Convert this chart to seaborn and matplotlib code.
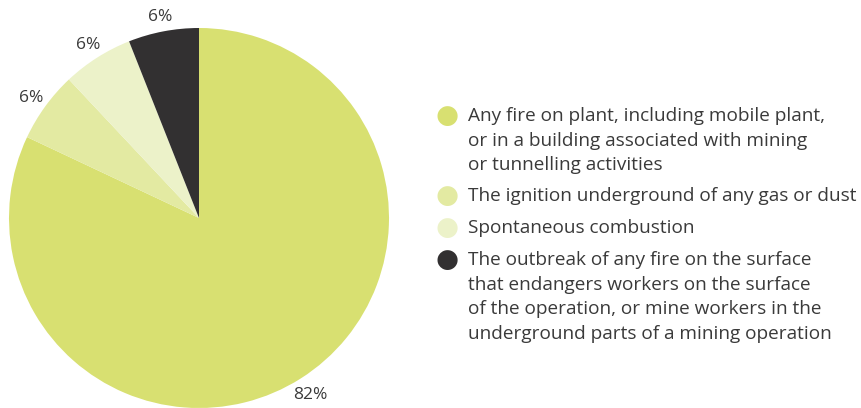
import matplotlib
matplotlib.use("Agg")
import matplotlib.pyplot as plt
import seaborn as sns

categories = [
    "Any fire on plant, including mobile plant,\nor in a building associated with mining\nor tunnelling activities",
    "The ignition underground of any gas or dust",
    "Spontaneous combustion",
    "The outbreak of any fire on the surface\nthat endangers workers on the surface\nof the operation, or mine workers in the\nunderground parts of a mining operation",
]
shares = [82, 6, 6, 6]
colors = ["#d8e071", "#e3eaa2", "#ecf2c9", "#323031"]

sns.set_theme(style="white")
plt.rcParams["font.family"] = ["Open Sans", "DejaVu Sans"]
text_color = "#3a3a3a"

W, H = 861, 408
fig = plt.figure(figsize=(W / 100, H / 100), dpi=100)
ax = fig.add_axes([9 / W, 0, 380 / W, 380 / H])

wedges, texts = ax.pie(
    shares,
    colors=colors,
    startangle=90,
    counterclock=False,
    labels=[f"{v}%" for v in shares],
    labeldistance=1.09,
    wedgeprops=dict(linewidth=0),
    textprops=dict(fontsize=12.5, color=text_color),
)
for t in texts:
    t.set_horizontalalignment("center")
    t.set_verticalalignment("center_baseline")
ax.set_xlim(-1, 1)
ax.set_ylim(-1, 1)
ax.set_aspect("equal")

# Legend: a dot beside the first line of each (possibly wrapped) label
line_px = 24
gap_px = 8
y = 116
for label, color in zip(categories, colors):
    fig.text(447 / W, 1 - y / H, "\u25CF", color=color, fontsize=19,
             ha="center", va="center", family="DejaVu Sans")
    fig.text(468 / W, 1 - (y - 9) / H, label, color=text_color, fontsize=13.7,
             ha="left", va="top", linespacing=1.48,
             multialignment="left")
    n_lines = label.count("\n") + 1
    y += n_lines * line_px + gap_px

fig.savefig("out.png", dpi=100)
